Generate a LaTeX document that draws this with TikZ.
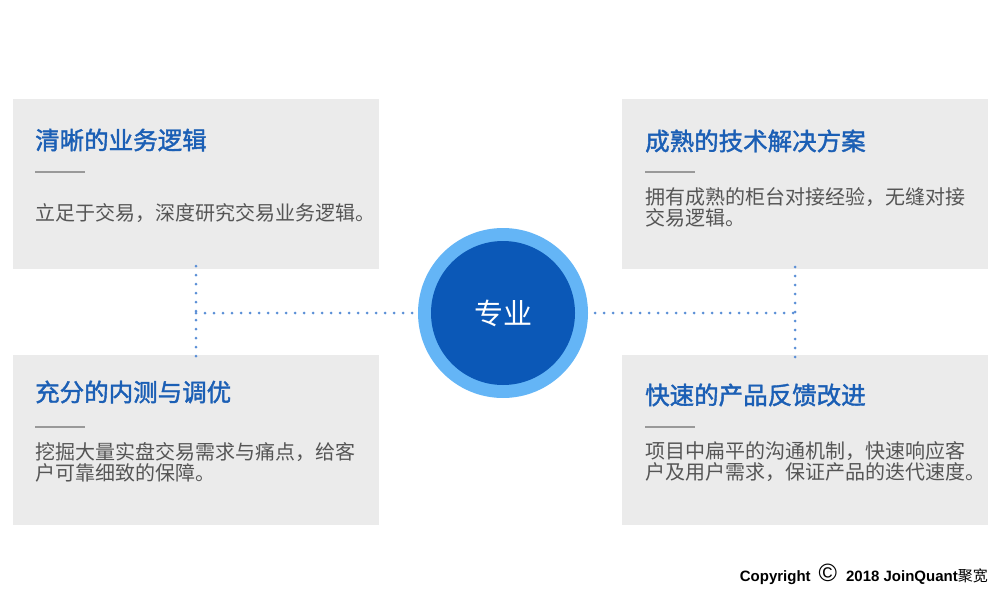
\documentclass[tikz,border=0pt]{standalone}
\usepackage{fontspec}
\setmainfont{Liberation Sans}
\newfontfamily\cjk{Noto Sans CJK SC}
\newfontfamily\cjkhead[FakeBold=1.6]{Noto Sans CJK SC}
\usetikzlibrary{positioning,calc}
\definecolor{azul}{HTML}{1B5FB5}
\definecolor{azulosc}{HTML}{0B58B7}
\definecolor{celeste}{HTML}{64B5F6}
\definecolor{punto}{HTML}{5B8FD6}
\definecolor{tarjeta}{HTML}{EBEBEB}
\definecolor{texto}{HTML}{555555}
\definecolor{linea}{HTML}{999999}

\begin{document}
\begin{tikzpicture}[x=1pt, y=-1pt,
  card/.style={
    fill=tarjeta, minimum width=366pt, minimum height=170pt, inner sep=0pt
  },
  head/.style={anchor=west, inner sep=0pt, text=azul,
    font=\cjkhead\fontsize{24.5}{27}\selectfont},
  body/.style={anchor=west, inner sep=0pt, text=texto, align=left,
    font=\cjk\fontsize{20}{21}\selectfont},
  rule/.style={draw=linea, line width=1.3pt},
  dots/.style={draw=punto, line width=3pt, line cap=round,
    dash pattern=on 0pt off 9pt}
]
  \useasboundingbox (0,0) rectangle (1001,594);
  \node[card] (tl) at (196,184) {};
  \node[card] (tr) at (805,184) {};
  \node[card] (bl) at (196,440) {};
  \node[card] (br) at (805,440) {};

  % centre
  \node[circle, fill=celeste, minimum size=170pt, inner sep=0pt] (ring) at (503,313) {};
  \node[circle, fill=azulosc, minimum size=144pt, inner sep=0pt,
    text=white, font=\cjk\fontsize{29}{32}\selectfont] (core) at (ring) {专业};

  % connectors
  \coordinate (lx) at (196,313);
  \coordinate (rtop) at (795,267);
  \coordinate (rbot) at (795,361);
  \coordinate (rx) at (795,313);
  \draw[dots] ([yshift=3pt]tl.south) -- ([yshift=-6pt]bl.north);
  \draw[dots] (rtop) -- (rbot);
  \draw[dots] (lx) -- ([xshift=-5pt]ring.west);
  \draw[dots] ([xshift=7pt]ring.east) -- (rx);

  % cards
  \node[head] (tlh) at (35,140) {清晰的业务逻辑};
  \draw[rule] (35,172) -- (85,172);
  \node[body] (tlb) at (35,213) {立足于交易，深度研究交易业务逻辑。};

  \node[head] (trh) at (645,141) {成熟的技术解决方案};
  \draw[rule] (645,172) -- (695,172);
  \node[body] (trb) at (645,207) {拥有成熟的柜台对接经验，无缝对接\\交易逻辑。};

  \node[head] (blh) at (35,392) {充分的内测与调优};
  \draw[rule] (35,427) -- (85,427);
  \node[body] (blb) at (35,462) {挖掘大量实盘交易需求与痛点，给客\\户可靠细致的保障。};

  \node[head] (brh) at (645,395) {快速的产品反馈改进};
  \draw[rule] (645,427) -- (695,427);
  \node[body] (brb) at (645,462) {项目中扁平的沟通机制，快速响应客\\户及用户需求，保证产品的迭代速度。};

  \node[anchor=east, inner sep=0pt, font=\bfseries\fontsize{15}{17}\selectfont] (copy)
    at (988,574) {Copyright\hspace{8pt}{\mdseries\fontsize{25}{25}\selectfont ©}\hspace{9pt}2018 JoinQuant{\cjk\mdseries 聚宽}};
\end{tikzpicture}
\end{document}
